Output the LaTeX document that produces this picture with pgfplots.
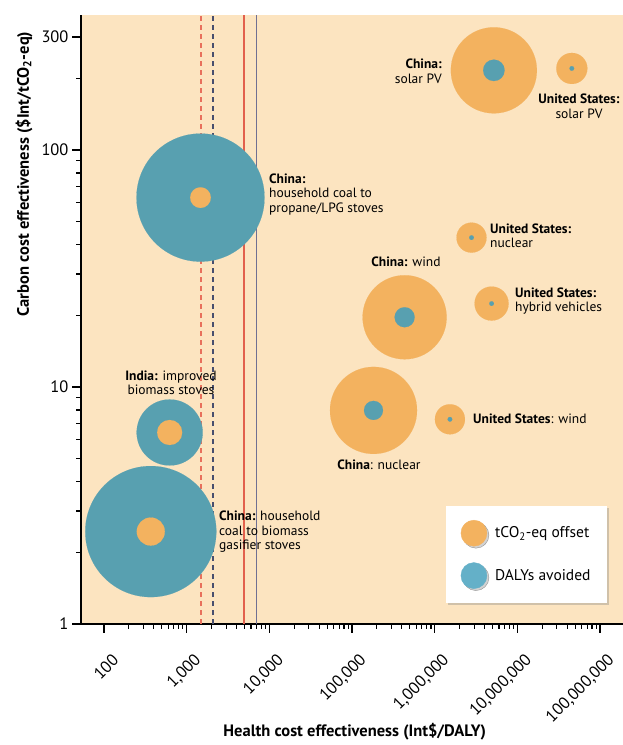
\documentclass[border=0pt]{standalone}
\usepackage{fontspec}
\setmainfont{PT Sans}
\usepackage{pgfplots}
\pgfplotsset{compat=1.18}
\usepackage{pgfplotstable}
\usetikzlibrary{shadows}
\definecolor{bgc}{RGB}{252,228,192}
\definecolor{orc}{RGB}{243,178,95}
\definecolor{blc}{RGB}{88,160,176}
\definecolor{bllg}{RGB}{100,176,200}
\definecolor{redl}{RGB}{226,96,76}
\definecolor{grayl}{RGB}{112,112,146}
\definecolor{darkd}{RGB}{72,78,110}
\definecolor{reddash}{RGB}{232,112,92}

\pgfplotstableread{
x y r
1470 63.0 64
623 6.43 33
368 2.455 65.5
}\outerblue
\pgfplotstableread{
x y r
5.2e6 217 43
4.56e7 221 15.5
2.79e6 42.7 15
4.88e6 22.5 17
4.33e5 19.7 42
1.82e5 7.97 43.5
1.53e6 7.31 15
}\outerorange
\pgfplotstableread{
x y r
1470 63.0 10.3
623 6.43 12.5
368 2.455 14
}\innerorange
\pgfplotstableread{
x y r
5.2e6 217 10.7
4.56e7 221 2.3
2.79e6 42.7 2.3
4.88e6 22.5 2.3
4.33e5 19.7 10
1.82e5 7.97 9.5
1.53e6 7.31 2.3
}\innerblue

\newcommand{\lab}{\fontsize{13.5}{14.5}\selectfont}

\pgfplotsset{
  bubble/.style={scatter, only marks, mark=*,
    scatter/use mapped color={draw=#1, fill=#1},
    mark options={line width=0.1pt},
    visualization depends on={\thisrow{r} \as \rad},
    scatter/@pre marker code/.append style={/tikz/mark size=\rad}},
}

\begin{document}
\begin{tikzpicture}
\begin{axis}[
  name=ax,
  scale only axis, width=542pt, height=609pt,
  xmode=log, ymode=log,
  xmin=52.7, xmax=1.897e8, ymin=1, ymax=371.5,
  axis x line*=bottom, axis y line*=left,
  x axis line style={-}, y axis line style={-},
  axis line style={line width=1.5pt, black},
  axis background/.style={fill=bgc},
  tick align=outside,
  major tick length=9pt, minor tick length=5pt,
  every tick/.style={black, line width=1.2pt},
  xtick={100,1000,10000,100000,1000000,10000000,100000000},
  xticklabels={100,{1,000},{10,000},{100,000},{1,000,000},{10,000,000},{100,000,000}},
  minor xtick={200,300,400,500,600,700,800,900,
    2000,3000,4000,5000,6000,7000,8000,9000,
    2e4,3e4,4e4,5e4,6e4,7e4,8e4,9e4,
    2e5,3e5,4e5,5e5,6e5,7e5,8e5,9e5,
    2e6,3e6,4e6,5e6,6e6,7e6,8e6,9e6,
    2e7,3e7,4e7,5e7,6e7,7e7,8e7,9e7},
  ytick={1,10,100,300}, yticklabels={1,10,100,300},
  minor ytick={2,3,4,5,6,7,8,9,20,30,40,50,60,70,80,90,200},
  ticklabel style={font=\fontsize{16.5}{18}\selectfont},
  xticklabel style={xshift=14pt, yshift=-22pt, rotate=45, anchor=east},
  xlabel={Health cost effectiveness (Int\$/DALY)},
  ylabel={Carbon cost effectiveness (\$Int/tCO\textsubscript{2}-eq)},
  label style={font=\fontsize{16.5}{18}\selectfont\bfseries},
  xlabel style={at={(axis description cs:0.505,-0.1765)}, anchor=center},
  ylabel style={at={(axis description cs:-0.105,0.739)}, anchor=center},
  legend style={at={(axis description cs:0.97,0.0345)}, anchor=south east,
    draw=none, fill=white,
    drop shadow={shadow xshift=2pt, shadow yshift=-2pt, opacity=0.35},
    inner xsep=15pt, inner ysep=14pt, row sep=16pt,
    font=\fontsize{15.5}{17}\selectfont,
    nodes={inner sep=1pt},
    /tikz/every odd column/.append style={column sep=7pt}},
  legend cell align=left,
]
\addlegendimage{legend image code/.code={\fill[orc] (13pt,0pt) circle (13pt);}}
\addlegendentry{tCO\textsubscript{2}-eq offset}
\addlegendimage{legend image code/.code={\fill[bllg] (13pt,0pt) circle (13pt);}}
\addlegendentry{DALYs avoided}

\addplot[bubble=blc, forget plot] table[x=x,y=y] {\outerblue};
\addplot[bubble=orc, forget plot] table[x=x,y=y] {\outerorange};
\addplot[bubble=orc, forget plot] table[x=x,y=y] {\innerorange};
\addplot[bubble=blc, forget plot] table[x=x,y=y] {\innerblue};

\addplot[reddash, line width=1.7pt, dash pattern=on 5pt off 4pt, forget plot] coordinates {(1480,1) (1480,371.5)};
\addplot[darkd, line width=1.7pt, dash pattern=on 5pt off 4pt, forget plot] coordinates {(2100,1) (2100,371.5)};
\addplot[redl, line width=1.6pt, forget plot] coordinates {(4940,1) (4940,371.5)};
\addplot[grayl, line width=1.6pt, forget plot] coordinates {(6960,1) (6960,371.5)};

\node[anchor=east, align=right, inner sep=0pt, font=\lab] at (axis cs:1.226e6,215.4) {\textbf{China:}\\solar PV};
\node[align=center, inner sep=0pt, font=\lab] at (axis cs:5.57e7,153.4) {\textbf{United States:}\\solar PV};
\node[anchor=west, align=left, inner sep=0pt, font=\lab] at (axis cs:9900,65.2) {\textbf{China:}\\household coal to\\propane/LPG stoves};
\node[anchor=west, align=left, inner sep=0pt, font=\lab] at (axis cs:4.67e6,43.4) {\textbf{United States:}\\nuclear};
\node[inner sep=0pt, font=\lab] at (axis cs:4.5e5,33.7) {\textbf{China:} wind};
\node[anchor=west, align=left, inner sep=0pt, font=\lab] at (axis cs:9.37e6,23.07) {\textbf{United States:}\\hybrid vehicles};
\node[inner sep=0pt, font=\lab] at (axis cs:2.12e5,4.69) {\textbf{China}: nuclear};
\node[anchor=west, inner sep=0pt, font=\lab] at (axis cs:2.91e6,7.33) {\textbf{United States}: wind};
\node[align=center, inner sep=0pt, font=\lab] at (axis cs:646,10.4) {\textbf{India:} improved\\biomass stoves};
\node[anchor=west, align=left, inner sep=0pt, font=\lab] at (axis cs:2460,2.445) {\textbf{China:} household\\coal to biomass\\gasifier stoves};
\end{axis}
\pgfresetboundingbox
\path[use as bounding box] ([shift={(-81pt,-121pt)}]ax.south west) rectangle ([shift={(0pt,15pt)}]ax.north east);
\end{tikzpicture}
\end{document}
